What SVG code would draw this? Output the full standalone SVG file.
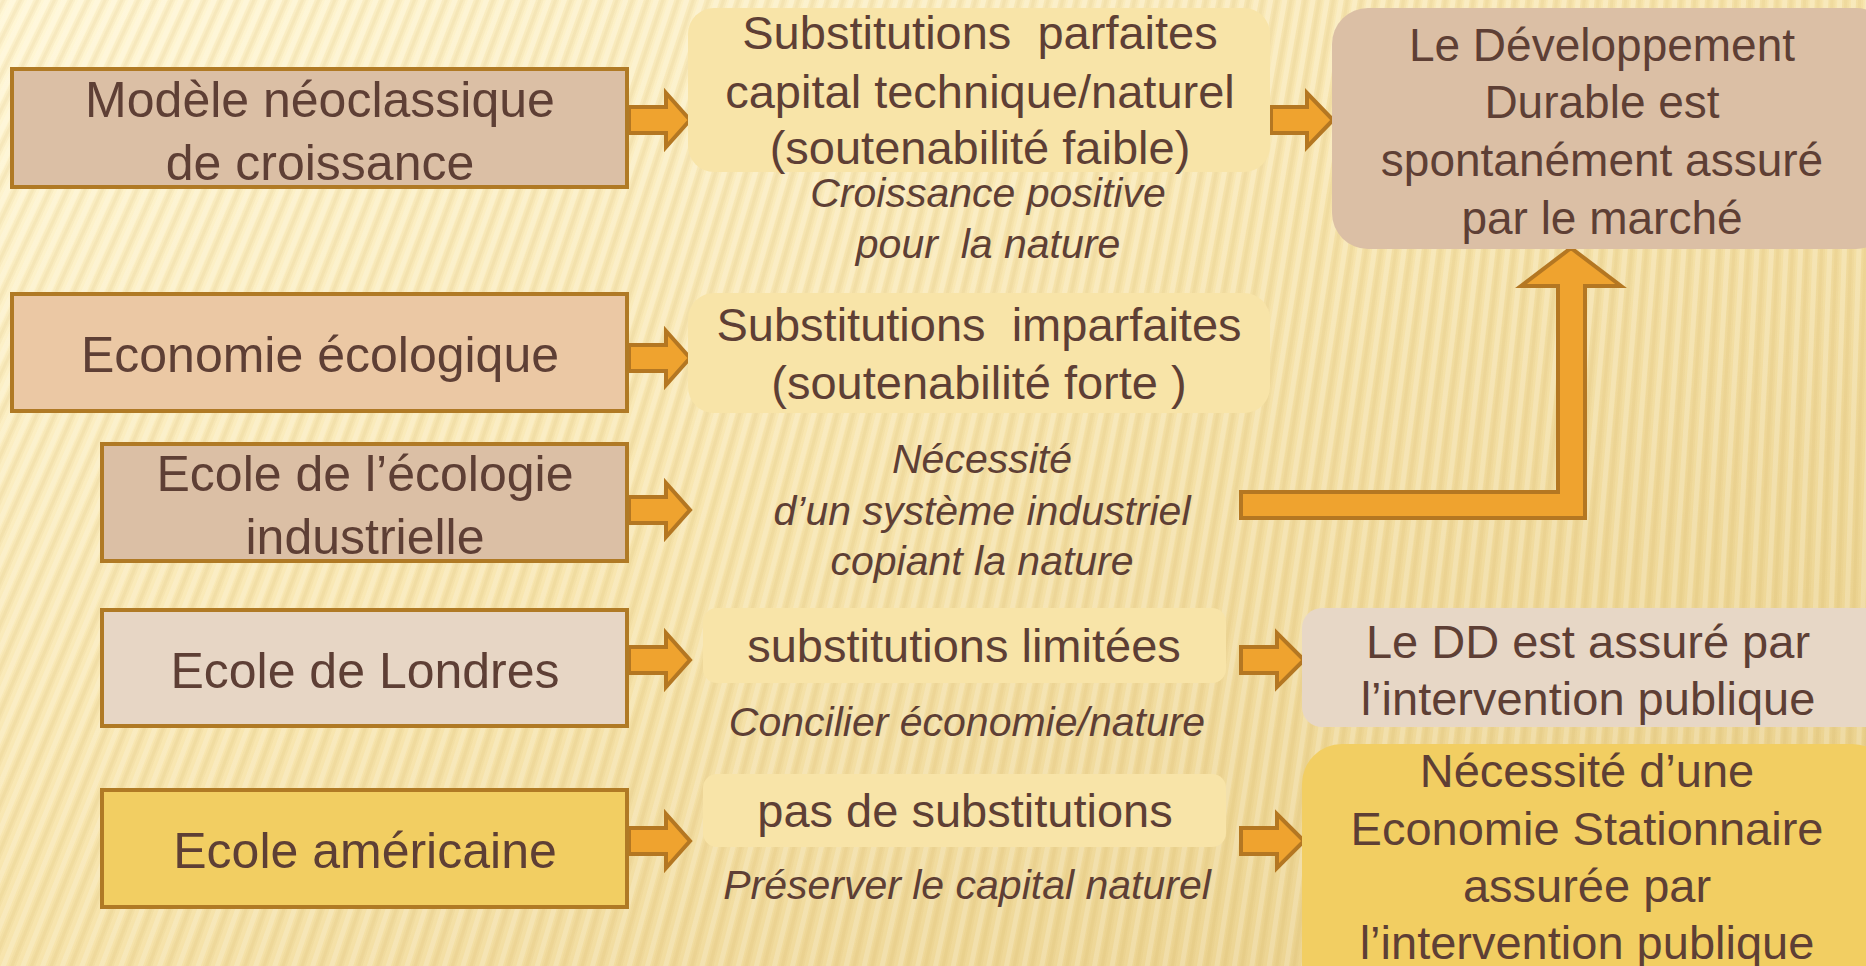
<svg xmlns="http://www.w3.org/2000/svg" width="1866" height="966" viewBox="0 0 1866 966">
<defs>
<linearGradient id="bg" x1="0" y1="0" x2="1" y2="1">
<stop offset="0" stop-color="#FFF7D6"/>
<stop offset="0.45" stop-color="#F8E6B0"/>
<stop offset="1" stop-color="#E8CE88"/>
</linearGradient>
<style>
.t{font-family:"Liberation Sans",Arial,sans-serif;fill:#5E3F35;text-anchor:middle}
.l{font-size:50px}
.m{font-size:47px}
.r{font-size:46px}
.i{font-size:41px;font-style:italic}
.lb{stroke:#B07A25;stroke-width:4}
.mb{fill:#F8E4A8}
.arr{fill:#EFA32F;stroke:#B47722;stroke-width:4;stroke-linejoin:miter}
</style>
</defs>
<rect width="1866" height="966" fill="url(#bg)"/>
<g id="stripes" fill="none">
<circle cx="2000" cy="-4000" r="4675" stroke="#C8A04A" stroke-opacity="0.08" stroke-width="1400" stroke-dasharray="7 9"/>
<circle cx="2000" cy="-4000" r="4675" stroke="#C8A04A" stroke-opacity="0.08" stroke-width="1400" stroke-dasharray="3 13" stroke-dashoffset="-2"/>
<circle cx="2000" cy="-4000" r="4675" stroke="#FFFFFF" stroke-opacity="0.18" stroke-width="1400" stroke-dasharray="5 11" stroke-dashoffset="8"/>
</g>

<g id="connectors">
<path class="arr" d="M629,107 H666 V93 L690,120 L666,147 V133 H629 Z"/>
<path class="arr" d="M629,345 H666 V331 L690,358 L666,385 V371 H629 Z"/>
<path class="arr" d="M629,497 H666 V483 L690,510 L666,537 V523 H629 Z"/>
<path class="arr" d="M629,647 H666 V633 L690,660 L666,687 V673 H629 Z"/>
<path class="arr" d="M629,828 H666 V814 L690,841 L666,868 V854 H629 Z"/>
<path class="arr" d="M1271,107 H1307 V93 L1333,120 L1307,147 V133 H1271 Z"/>
<path class="arr" d="M1241,647 H1277 V633 L1304,660 L1277,687 V673 H1241 Z"/>
<path class="arr" d="M1241,828 H1277 V814 L1304,841 L1277,868 V854 H1241 Z"/>
<path class="arr" d="M1241,492 H1558 V286 H1521 L1571,248 L1621,286 H1585 V518 H1241 Z"/>
</g>

<g id="n-neoclassique">
<rect class="lb" x="12" y="69" width="615" height="118" fill="#DBBFA5"/>
<text class="t l" x="320" y="117">Modèle néoclassique</text>
<text class="t l" x="320" y="180">de croissance</text>
</g>
<g id="n-economie-ecologique">
<rect class="lb" x="12" y="294" width="615" height="117" fill="#EBC8A4"/>
<text class="t l" x="320" y="372">Economie écologique</text>
</g>
<g id="n-ecologie-industrielle">
<rect class="lb" x="102" y="444" width="525" height="117" fill="#DBBFA5"/>
<text class="t l" x="365" y="491">Ecole de l’écologie</text>
<text class="t l" x="365" y="554">industrielle</text>
</g>
<g id="n-londres">
<rect class="lb" x="102" y="610" width="525" height="116" fill="#E7D6C5"/>
<text class="t l" x="365" y="688">Ecole de Londres</text>
</g>
<g id="n-americaine">
<rect class="lb" x="102" y="790" width="525" height="117" fill="#F2CE62"/>
<text class="t l" x="365" y="868">Ecole américaine</text>
</g>

<g id="n-subst-parfaites">
<rect class="mb" x="688" y="8" width="582" height="164" rx="26"/>
<text class="t m" x="980" y="49" xml:space="preserve">Substitutions  parfaites</text>
<text class="t m" x="980" y="108">capital technique/naturel</text>
<text class="t m" x="980" y="164">(soutenabilité faible)</text>
<text class="t i" x="988" y="207">Croissance positive</text>
<text class="t i" x="988" y="258" xml:space="preserve">pour  la nature</text>
</g>
<g id="n-subst-imparfaites">
<rect class="mb" x="688" y="293" width="582" height="120" rx="26"/>
<text class="t m" x="979" y="341" xml:space="preserve">Substitutions  imparfaites</text>
<text class="t m" x="979" y="399">(soutenabilité forte )</text>
</g>
<g id="n-systeme-industriel">
<text class="t i" x="982" y="473">Nécessité</text>
<text class="t i" x="982" y="525">d’un système industriel</text>
<text class="t i" x="982" y="575">copiant la nature</text>
</g>
<g id="n-subst-limitees">
<rect class="mb" x="703" y="608" width="523" height="75" rx="14"/>
<text class="t m" x="964" y="662">substitutions limitées</text>
<text class="t i" x="967" y="736">Concilier économie/nature</text>
</g>
<g id="n-pas-subst">
<rect class="mb" x="703" y="774" width="523" height="73" rx="14"/>
<text class="t m" x="965" y="827">pas de substitutions</text>
<text class="t i" x="967" y="899">Préserver le capital naturel</text>
</g>

<g id="n-dd-marche">
<rect x="1332" y="8" width="560" height="241" rx="36" fill="#DBBFA5"/>
<text class="t r" x="1602" y="61">Le Développement</text>
<text class="t r" x="1602" y="118">Durable est</text>
<text class="t r" x="1602" y="176">spontanément assuré</text>
<text class="t r" x="1602" y="234">par le marché</text>
</g>
<g id="n-dd-public">
<rect x="1302" y="608" width="590" height="119" rx="20" fill="#E7D7C6"/>
<text class="t m" x="1588" y="658">Le DD est assuré par</text>
<text class="t m" x="1588" y="715">l’intervention publique</text>
</g>
<g id="n-stationnaire">
<rect x="1302" y="744" width="590" height="260" rx="40" fill="#F2CE62"/>
<text class="t m" x="1587" y="787">Nécessité d’une</text>
<text class="t m" x="1587" y="845">Economie Stationnaire</text>
<text class="t m" x="1587" y="902">assurée par</text>
<text class="t m" x="1587" y="959">l’intervention publique</text>
</g>
</svg>
